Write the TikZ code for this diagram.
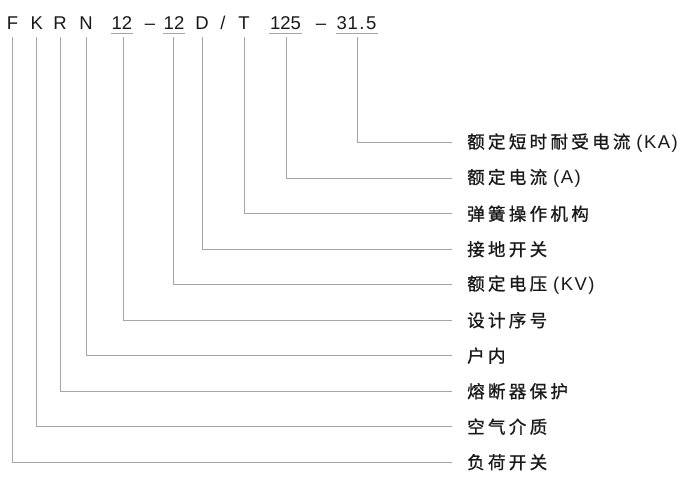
\documentclass[tikz,border=0pt]{standalone}
\usepackage{fontspec}
\setmainfont{Liberation Sans}
\newfontfamily\cjk[LetterSpace=19,FakeBold=1]{Noto Sans CJK SC}
\newfontfamily\lat[LetterSpace=8]{Liberation Sans}
\newcommand{\latpart}[1]{\hspace{6pt}{\fontsize{18.5pt}{20pt}\lat #1}}
\definecolor{lncol}{RGB}{165,165,165}
\definecolor{txcol}{RGB}{25,25,25}
\begin{document}
\begin{tikzpicture}[x=1pt,y=-1pt,
  code/.style={inner xsep=0pt,inner ysep=0pt,anchor=base,text height=13pt,text depth=4pt,
    font=\fontsize{18.5pt}{20pt}\selectfont,text=txcol},
  ucode/.style={code,inner xsep=1pt},
  lab/.style={anchor=west,inner sep=0pt,font=\fontsize{17.5pt}{20pt}\cjk,text=txcol},
  ln/.style={draw=lncol,line width=1pt},
  conn/.style={ln,shorten <=3.5pt,shorten >=15pt}]
\useasboundingbox (0,0) rectangle (700,480);
% code letters
\node[code] (c1) at (12.5,29) {F};
\node[code] (c2) at (36.7,29) {K};
\node[code] (c3) at (60,29) {R};
\node[code] (c4) at (86,29) {N};
\node[ucode] (c5) at (122,29) {12};
\node[code] (d1) at (150,29) {\textendash};
\node[ucode] (c6) at (174,29) {12};
\node[code] (c7) at (202,29) {D};
\node[code] (s1) at (223,29) {/};
\node[code] (c8) at (244,29) {T};
\node[ucode] (c9) at (285.5,29) {125};
\node[code] (d2) at (321,29) {\textendash};
\node[ucode] (c10) at (356.5,29) {3\kern0.6pt1\kern1.5pt.\kern1.5pt5};
% underlines
\foreach \n in {c5,c6,c9,c10}
  \draw[ln] (\n.south west) -- (\n.south east);
% labels
\node[lab] (l10) at (467,142.7) {额定短时耐受电流\latpart{(KA)}};
\node[lab] (l9) at (467,178.2) {额定电流\latpart{(A)}};
\node[lab] (l8) at (467,213.7) {弹簧操作机构};
\node[lab] (l7) at (467,249.2) {接地开关};
\node[lab] (l6) at (467,284.7) {额定电压\latpart{(KV)}};
\node[lab] (l5) at (467,320.2) {设计序号};
\node[lab] (l4) at (467,355.7) {户内};
\node[lab] (l3) at (467,391.2) {熔断器保护};
\node[lab] (l2) at (467,426.7) {空气介质};
\node[lab] (l1) at (467,462.2) {负荷开关};
% connectors
\draw[conn] (c1.south) |- (l1.west);
\draw[conn] (c2.south) |- (l2.west);
\draw[conn] (c3.south) |- (l3.west);
\draw[conn] (c4.south) |- (l4.west);
\draw[conn] ([xshift=1.5pt]c5.south) |- (l5.west);
\draw[conn] ([xshift=-1pt]c6.south) |- (l6.west);
\draw[conn] (c7.south) |- (l7.west);
\draw[conn] (c8.south) |- (l8.west);
\draw[conn] ([xshift=0.5pt]c9.south) |- (l9.west);
\draw[conn] ([xshift=0.5pt]c10.south) |- (l10.west);
\end{tikzpicture}
\end{document}
